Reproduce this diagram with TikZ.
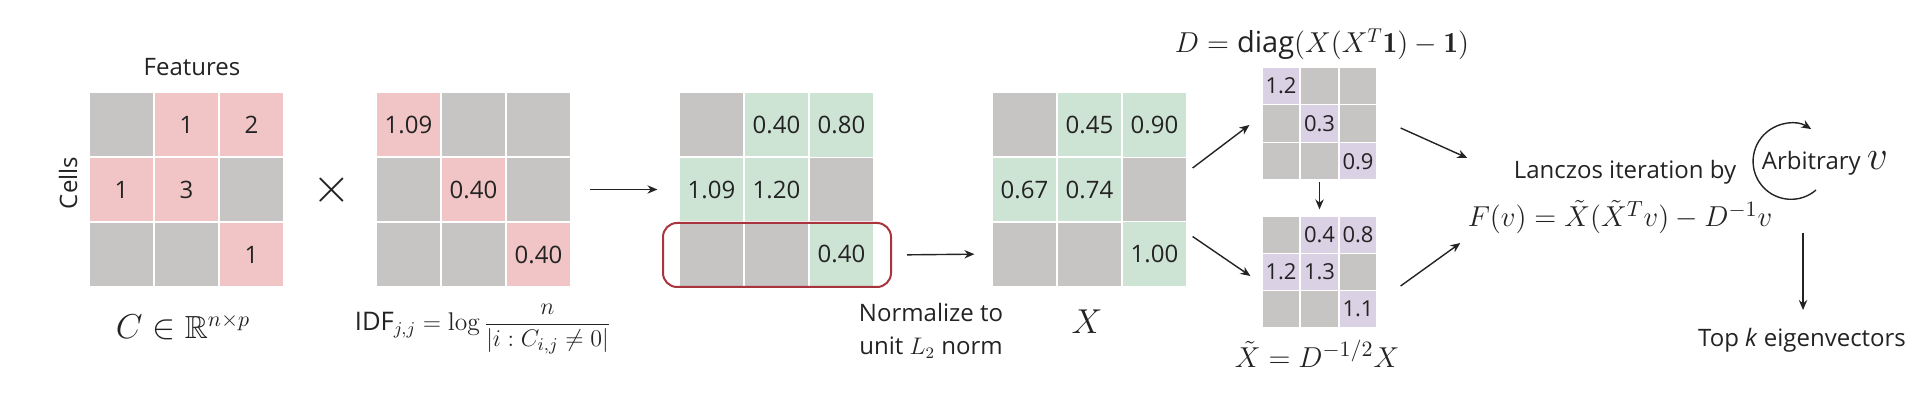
\documentclass[tikz,border=0pt]{standalone}
\usepackage{amsmath,amssymb}
\usepackage{fontspec}
\setsansfont{Open Sans}
\usepackage{tikz}
\usetikzlibrary{arrows.meta}

\definecolor{zerogray}{RGB}{199,196,196}
\definecolor{cntpink}{RGB}{241,197,197}
\definecolor{nrmgreen}{RGB}{205,227,212}
\definecolor{lappurple}{RGB}{219,209,229}
\definecolor{selred}{RGB}{168,52,62}
\definecolor{inkgray}{RGB}{35,35,35}

\tikzset{
    cell/.style={draw=white, line width=0.6pt, inner sep=0pt,
        minimum width=32.5pt, minimum height=32.5pt,
        font=\sffamily\fontsize{12}{14}\selectfont, text=inkgray},
    smallcell/.style={cell, minimum width=19pt, minimum height=18.7pt,
        font=\sffamily\fontsize{11}{13}\selectfont},
    zero/.style={fill=zerogray},
    cnt/.style={fill=cntpink},
    nrm/.style={fill=nrmgreen},
    lap/.style={fill=lappurple},
    lbl/.style={inner sep=0pt, text=inkgray, font=\sffamily\fontsize{12}{16.5}\selectfont},
    eq/.style={inner sep=0pt, text=inkgray},
    arr/.style={draw=inkgray, line width=0.7pt, -{Stealth[length=5pt,width=4.2pt]}},
}

\begin{document}
\begin{tikzpicture}[x=0.5pt,y=-0.5pt]
    \useasboundingbox (0,0) rectangle (1920,394);

    % Count matrix C
    \foreach \r/\y in {1/124.5,2/189.5,3/254.5}
        \foreach \c/\x in {1/121.5,2/186.5,3/251.5}
            \node[cell,zero] (C\r\c) at (\x,\y) {};
    \node[cell,cnt] (C12) at (186.5,124.5) {1};
    \node[cell,cnt] (C13) at (251.5,124.5) {2};
    \node[cell,cnt] (C21) at (121.5,189.5) {1};
    \node[cell,cnt] (C22) at (186.5,189.5) {3};
    \node[cell,cnt] (C33) at (251.5,254.5) {1};

    \node[lbl] (feat) at (192,67) {Features};
    \node[lbl,rotate=90] (cells) at (68,183) {Cells};
    \node[eq] (clbl) at (183,327) {\fontsize{16}{18}\selectfont$C\in\mathbb{R}^{n\times p}$};
    \node[eq] (times) at (332,190) {\fontsize{30}{30}\selectfont$\times$};

    % IDF matrix
    \foreach \r/\y in {1/124.5,2/189.5,3/254.5}
        \foreach \c/\x in {1/408.5,2/473.5,3/538.5}
            \node[cell,zero] (I\r\c) at (\x,\y) {};
    \node[cell,cnt] (I11) at (408.5,124.5) {1.09};
    \node[cell,cnt] (I22) at (473.5,189.5) {0.40};
    \node[cell,cnt] (I33) at (538.5,254.5) {0.40};

    \node[eq] (idf) at (483,329) {\fontsize{12.8}{15}\selectfont
        $\displaystyle\textsf{IDF}_{j,j}=\log\frac{n}{|i:C_{i,j}\neq 0|}$};

    % product matrix
    \foreach \r/\y in {1/125,2/189.5,3/254}
        \foreach \c/\x in {1/711.5,2/776.5,3/841.5}
            \node[cell,zero] (N\r\c) at (\x,\y) {};
    \node[cell,nrm] (N12) at (776.5,125) {0.40};
    \node[cell,nrm] (N13) at (841.5,125) {0.80};
    \node[cell,nrm] (N21) at (711.5,189.5) {1.09};
    \node[cell,nrm] (N22) at (776.5,189.5) {1.20};
    \node[cell,nrm] (N33) at (841.5,254) {0.40};

    \node[draw=selred, line width=1pt, rounded corners=7pt, inner sep=0pt,
        minimum width=114pt, minimum height=32pt] (sel) at (777,255) {};

    \node[lbl, align=center] (norm) at (931,331) {Normalize to\\unit $L_2$\ norm};

    % normalized matrix X
    \foreach \r/\y in {1/125,2/189.5,3/254}
        \foreach \c/\x in {1/1024.5,2/1089.5,3/1154.5}
            \node[cell,zero] (X\r\c) at (\x,\y) {};
    \node[cell,nrm] (X12) at (1089.5,125) {0.45};
    \node[cell,nrm] (X13) at (1154.5,125) {0.90};
    \node[cell,nrm] (X21) at (1024.5,189.5) {0.67};
    \node[cell,nrm] (X22) at (1089.5,189.5) {0.74};
    \node[cell,nrm] (X33) at (1154.5,254) {1.00};

    \node[eq] (xlbl) at (1087,322) {\fontsize{18}{20}\selectfont$X$};

    % degree matrix D
    \foreach \r/\y in {1/85.8,2/123.5,3/161.2}
        \foreach \c/\x in {1/1281,2/1319.5,3/1358}
            \node[smallcell,zero] (D\r\c) at (\x,\y) {};
    \node[smallcell,lap] (D11) at (1281,85.8) {1.2};
    \node[smallcell,lap] (D22) at (1319.5,123.5) {0.3};
    \node[smallcell,lap] (D33) at (1358,161.2) {0.9};

    \node[eq] (dlbl) at (1322,44) {\fontsize{14.5}{16}\selectfont
        $D=\textsf{diag}(X(X^T\mathbf{1})-\mathbf{1})$};

    % scaled matrix X tilde
    \foreach \r/\y in {1/234.7,2/272,3/309.3}
        \foreach \c/\x in {1/1281,2/1319.5,3/1358}
            \node[smallcell,zero] (T\r\c) at (\x,\y) {};
    \node[smallcell,lap] (T12) at (1319.5,234.7) {0.4};
    \node[smallcell,lap] (T13) at (1358,234.7) {0.8};
    \node[smallcell,lap] (T21) at (1281,272) {1.2};
    \node[smallcell,lap] (T22) at (1319.5,272) {1.3};
    \node[smallcell,lap] (T33) at (1358,309.3) {1.1};

    \node[eq] (tlbl) at (1317,354) {\fontsize{15}{17}\selectfont$\tilde{X}=D^{-1/2}X$};

    % Lanczos step
    \node[lbl] (lanc) at (1625,172) {Lanczos iteration by};
    \node[eq] (fv) at (1620,217) {\fontsize{15}{17}\selectfont
        $F(v)=\tilde{X}(\tilde{X}^Tv)-D^{-1}v$};
    \node[lbl] (arb) at (1825,163) {Arbitrary {\fontsize{21}{21}\selectfont$v$}};
    \node[lbl] (top) at (1802,340) {Top \textit{k} eigenvectors};

    % connectors
    \draw[arr, shorten <=9pt, shorten >=10.5pt] (I23.east) -- (N21.west);
    \draw[arr, shorten <=7.5pt, shorten >=8.5pt] (sel.east) -- (X31.west);
    \draw[arr] ([shift={(5,-21.5)}]X23.east) -- ([shift={(-12,1.5)}]D21.west);
    \draw[arr] ([shift={(5,-17.5)}]X33.east) -- ([shift={(-11,4)}]T21.west);
    \draw[arr, shorten <=1pt, shorten >=3pt] (D32.south) -- (T12.north);
    \draw[arr] ([shift={(23,4.5)}]D23.east) -- ([shift={(0,-59)}]fv.west);
    \draw[arr] ([shift={(23,14)}]T23.east) -- ([shift={(-7,26)}]fv.west);
    \draw[arr] ([shift={(1,-107)}]top.center) -- ([shift={(1,-30)}]top.center);
    \draw[arr] ([shift={(-9,27)}]arb.center) arc[start angle=49, end angle=302, radius=38];
\end{tikzpicture}
\end{document}
